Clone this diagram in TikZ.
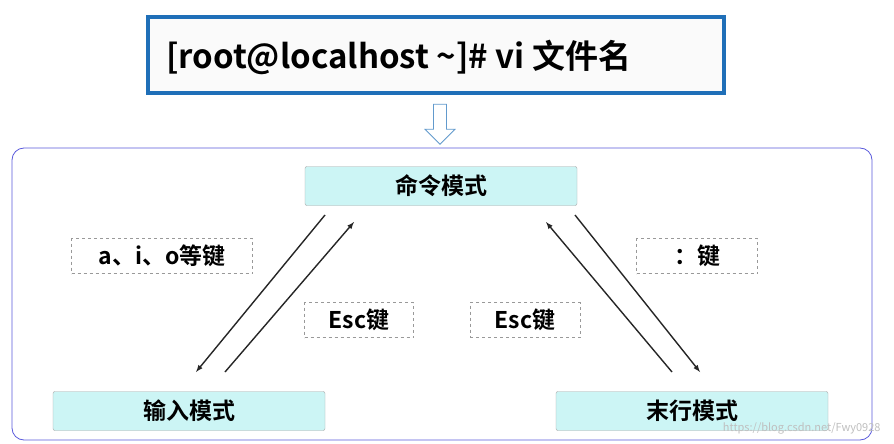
\documentclass[tikz,border=0pt]{standalone}
\usepackage{fontspec}
\setmainfont{Noto Sans CJK SC}[BoldFont={Noto Sans CJK SC Bold}]
\usetikzlibrary{shapes.arrows}
\definecolor{frameblue}{HTML}{1F6FB8}
\definecolor{outer}{HTML}{5A5ADC}
\definecolor{cyanfill}{HTML}{CCF5F5}
\tikzset{
  mode/.style={draw=gray!70,fill=cyanfill,rounded corners=2pt,minimum width=272pt,minimum height=39pt,inner sep=0pt,font=\bfseries\fontsize{23}{23}\selectfont},
  keylab/.style={draw=gray!80,dashed,thick,fill=white,minimum height=35pt,inner sep=0pt,font=\bfseries\fontsize{23}{23}\selectfont},
  arr/.style={-latex,line width=1.4pt,black!85}
}
\begin{document}
\begin{tikzpicture}[x=1pt,y=-1pt]
\useasboundingbox[fill=white] (0,0) rectangle (894,444);
\node[draw=frameblue,line width=4pt,fill=gray!4,minimum width=576pt,minimum height=76pt] (cmd) at (436,55) {};
\node[anchor=west,inner sep=0pt,font=\bfseries\fontsize{33}{33}\selectfont] (cmdtext) at (166,57) {[root@localhost \textasciitilde]\# vi 文件名};
\node[single arrow,shape border rotate=270,draw=frameblue!70,fill=white,thick,minimum width=30pt,single arrow head extend=5pt,minimum height=40pt] (down) at (440,121) {};
\node[draw=outer,thick,rounded corners=12pt,minimum width=860pt,minimum height=292pt] (frame) at (442,294) {};
\node[mode] (m) at (441,186) {命令模式};
\node[mode] (i) at (189,411) {输入模式};
\node[mode] (l) at (692,411) {末行模式};
\node[keylab,minimum width=181pt] (k1) at (162,256) {a、i、o等键};
\node[keylab,minimum width=109pt] (k2) at (359,320) {Esc键};
\node[keylab,minimum width=110pt] (k3) at (525,320) {Esc键};
\node[keylab,minimum width=121pt] (k4) at (697,256) {：键};
\coordinate (a1) at (325,215); \coordinate (a2) at (196,372);
\coordinate (b1) at (225,372); \coordinate (b2) at (354,222);
\coordinate (c1) at (672,372); \coordinate (c2) at (546,222);
\coordinate (d1) at (575,215); \coordinate (d2) at (700,372);
\draw[arr] (a1) -- (a2);
\draw[arr] (b1) -- (b2);
\draw[arr] (c1) -- (c2);
\draw[arr] (d1) -- (d2);
\node[text=gray!50,font=\fontsize{11}{11}\selectfont,anchor=east] (wm) at (884,428) {https://blog.csdn.net/Fwy0928};
\end{tikzpicture}
\end{document}
